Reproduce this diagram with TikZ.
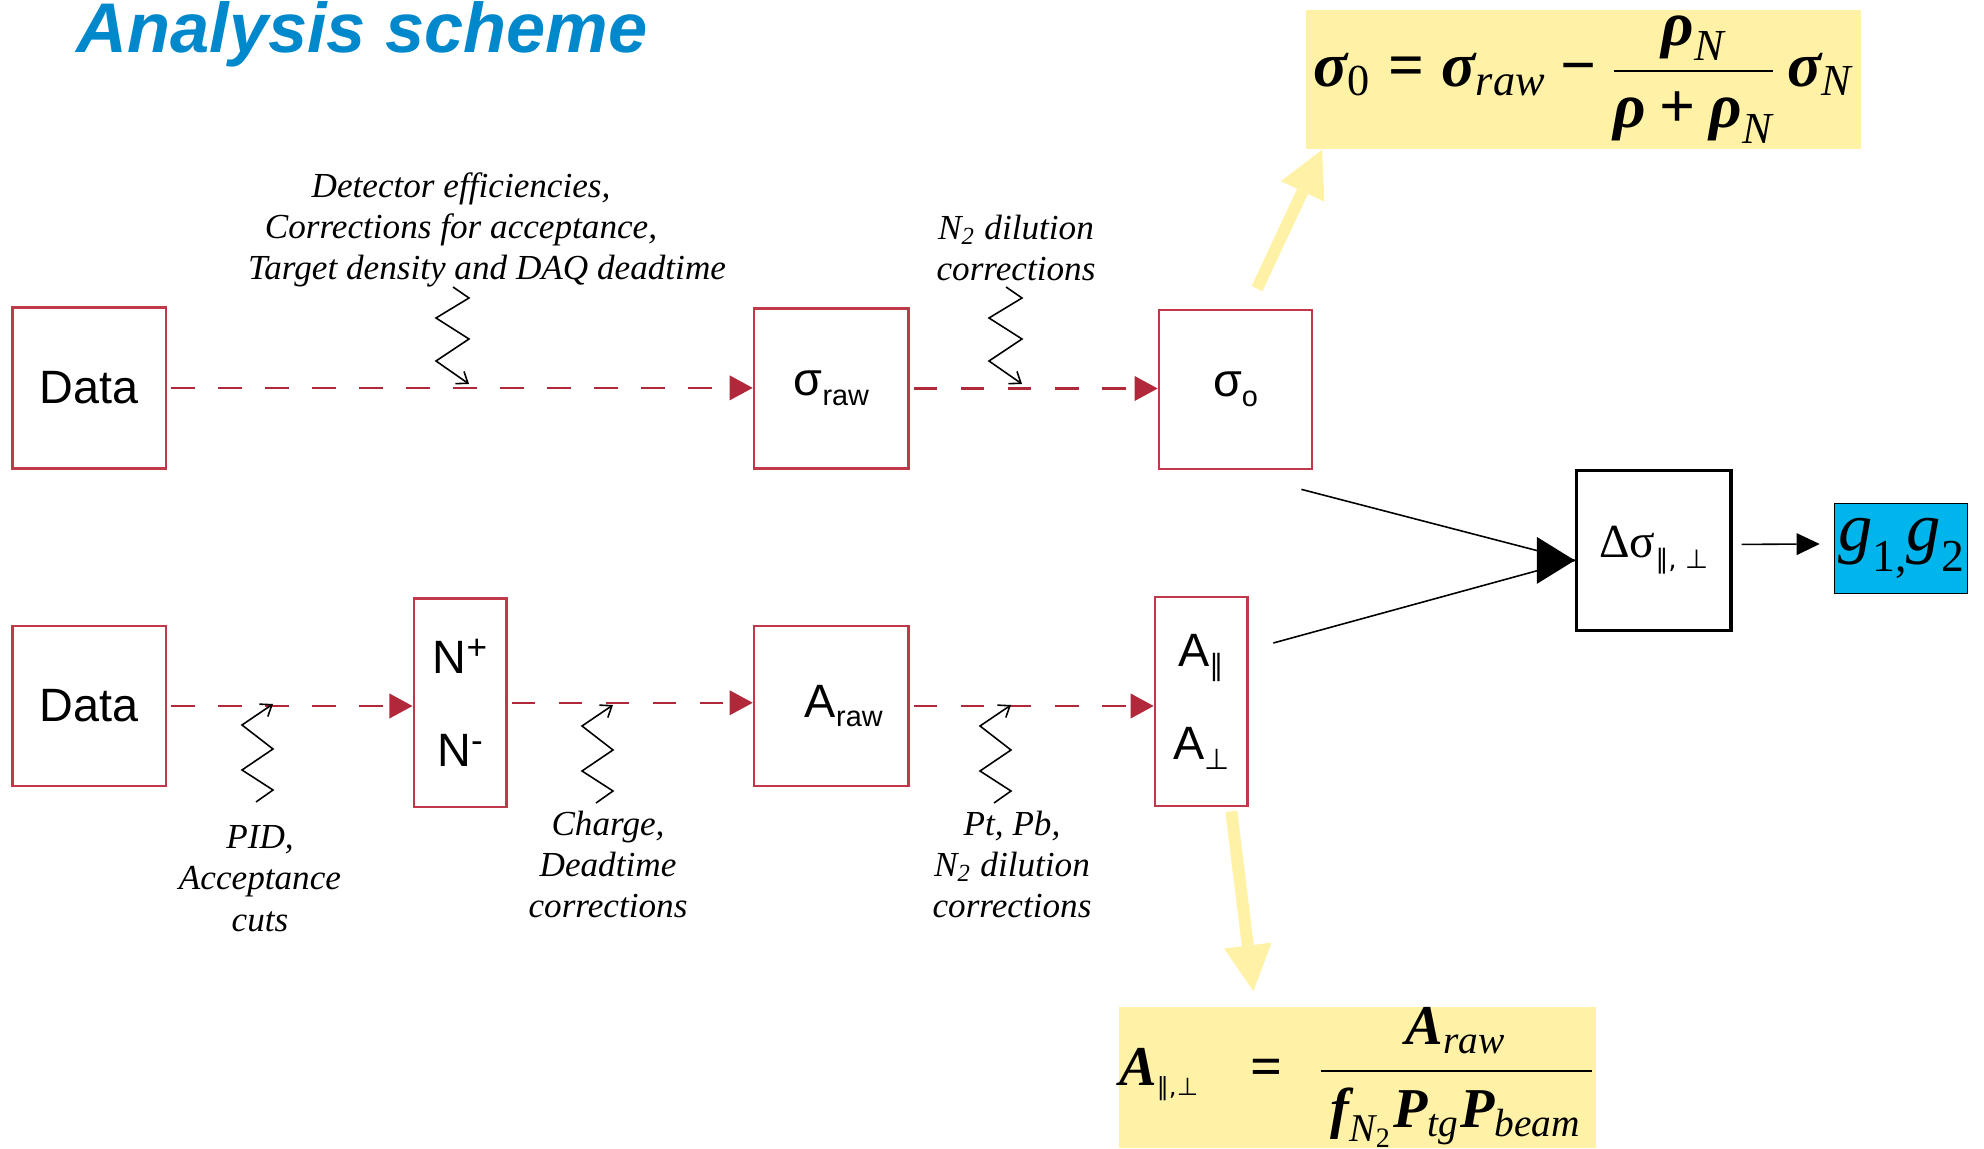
\documentclass[tikz,border=0pt]{standalone}
\usepackage{fontspec}
\usepackage{amsmath}
\setmainfont{Liberation Sans}
\newfontfamily\tnr{Liberation Serif}
\newfontfamily\dvs{DejaVu Sans}
\usetikzlibrary{arrows.meta,calc}
\definecolor{boxred}{RGB}{192,56,74}
\definecolor{dashred}{RGB}{176,40,58}
\definecolor{titleblue}{RGB}{0,136,204}
\definecolor{fyellow}{RGB}{255,242,166}
\definecolor{gcyan}{RGB}{0,181,236}
\newcommand\bgr[1]{\text{\tnr\bfseries\itshape #1}}
\newcommand\sbi[1]{\text{\tnr\itshape #1}}
\newcommand\sbu[1]{\text{\tnr #1}}
\newcommand\lblfont{\tnr\itshape\fontsize{10}{11.7}\selectfont}
\newcommand\boxfont{\fontsize{13.3}{15}\selectfont}
\newcommand\smallsub[1]{\raisebox{-2.8pt}{\fontsize{8.2}{9}\selectfont #1}}
\begin{document}
\begin{tikzpicture}[x=0.01cm,y=-0.01cm,
  redbox/.style={draw=boxred, line width=0.75pt, fill=white, inner sep=0pt, font=\boxfont, align=center},
  dasharrow/.style={draw=dashred, line width=0.6pt, dash pattern=on 0.235cm off 0.235cm,
     -{Triangle[length=0.23cm,width=0.25cm,line width=0pt]}, shorten <=0.04cm},
  zig/.style={draw=black, line width=0.45pt, -{Straight Barb[length=0.1cm,width=0.15cm]}},
  lbl/.style={font=\lblfont, align=center, inner sep=0pt, anchor=north},
  yarrow/.style={draw=fyellow, line width=0.12cm, -{Triangle[length=0.46cm,width=0.48cm,line width=0pt]}},
  blk/.style={draw=black, line width=0.45pt}]
\useasboundingbox (0,0) rectangle (1984,1149);

% title
\node[anchor=base west, inner sep=0pt, text=titleblue, font=\fontsize{20}{24}\selectfont\bfseries\itshape] (title) at (76,53) {Analysis scheme};

% formula boxes
\node[fill=fyellow, minimum width=5.55cm, minimum height=1.39cm, inner sep=0pt, font=\fontsize{18}{20}\selectfont] (f1) at (1583.5,79.5)
 {$\displaystyle \bgr{σ}_{\sbu{0}} \mathrel{\text{\tnr\bfseries =}} \bgr{σ}_{\sbi{raw}} \mathbin{\text{\tnr\bfseries −}} \frac{\bgr{ρ}_{\sbi{N}}}{\bgr{ρ}\mathbin{\text{\tnr\bfseries +}}\bgr{ρ}_{\sbi{N}}}\,\bgr{σ}_{\sbi{N}}$};
\node[fill=fyellow, minimum width=4.71cm, minimum height=1.41cm, inner sep=0pt, font=\fontsize{16}{18}\selectfont] (f2) at (1357.5,1077.5)
 {$\displaystyle \bgr{A}_{\text{\dvs\mdseries\upshape\fontsize{7}{7}\selectfont ∥,⊥}}\;\;\mathrel{\text{\tnr\bfseries =}}\;\frac{\,\bgr{A}_{\sbi{raw}}\,}{\,\bgr{f}_{\sbi{N}_{\sbu{2}}}\bgr{P}_{\sbi{tg}}\bgr{P}_{\sbi{beam}}\,}$};

% boxes
\node[redbox, minimum width=1.53cm, minimum height=1.607cm] (d1) at (89.3,387.9) {Data};
\node[redbox, minimum width=1.545cm, minimum height=1.595cm] (sraw) at (831.3,388.5) {σ\smallsub{raw}};
\node[redbox, minimum width=1.53cm, minimum height=1.59cm] (s0) at (1235.5,389.5) {σ\smallsub{o}};
\node[redbox, minimum width=1.53cm, minimum height=1.60cm] (d2) at (89.3,706) {Data};
\node[redbox, minimum width=0.923cm, minimum height=2.085cm, font={\fontsize{13.3}{26.5}\selectfont}] (nn) at (460,702.8)
 {N\raisebox{4pt}{\fontsize{10}{10}\selectfont +}\\N\raisebox{4pt}{\fontsize{10}{10}\selectfont -}};
\node[redbox, minimum width=1.545cm, minimum height=1.60cm] (araw) at (831.3,706) {\hspace{0.25cm}A\smallsub{raw}};
\node[redbox, minimum width=0.926cm, minimum height=2.09cm, font={\fontsize{13.3}{26.5}\selectfont}] (apar) at (1201.3,701.5)
 {A\smallsub{\dvs ∥}\\A\smallsub{\dvs ⊥}};
\node[draw=black, line width=0.9pt, fill=white, minimum width=1.545cm, minimum height=1.593cm, inner sep=0pt] (dsig) at (1653.7,550.4)
 {{\tnr\fontsize{13.5}{15}\selectfont Δσ}\raisebox{-3pt}{\dvs\fontsize{7.5}{8}\selectfont ∥, ⊥}};
\node[draw=black, line width=0.5pt, fill=gcyan, minimum width=1.328cm, minimum height=0.898cm, inner sep=0pt] (g) at (1901,548.5)
 {\tnr\fontsize{19.5}{20}\selectfont\itshape g\raisebox{-6pt}{\upshape\fontsize{13}{13}\selectfont 1,}g\raisebox{-6pt}{\upshape\fontsize{13}{13}\selectfont 2}};

% dashed red flow
\draw[dasharrow] (d1.east) -- (d1.east -| sraw.west);
\draw[dasharrow] (sraw.east) -- (sraw.east -| s0.west);
\draw[dasharrow] (d2.east) -- (d2.east -| nn.west);
\draw[dasharrow] (nn.east) -- (nn.east -| araw.west);
\draw[dasharrow] (araw.east) -- (araw.east -| apar.west);

% black connectors
\coordinate (dtip) at ($(dsig.west)+(0,10)$);
\draw[blk] ($(s0.south east)+(-12,19)$) -- (dtip);
\draw[blk] ($(apar.east)+(24.4,-58.5)$) -- (dtip);
\fill[black] (dtip) -- ++(-38,-23.5) -- ++(0,47) -- cycle;
\draw[blk, -{Triangle[length=0.23cm,width=0.22cm,line width=0pt]}] ($(dsig.east)+(9,-6)$) -- ($(g.west)+(-14,-4.5)$);

% yellow arrows
\draw[yarrow] ($(s0.north)+(21.5,-20)$) -- ($(f1.south west)+(17,0)$);
\draw[yarrow] ($(apar.south)+(30,4)$) -- ($(f2.north west)+(135,-15)$);

% zigzag correction arrows
\coordinate (z1) at (469,384);
\coordinate (z2) at (1022,384);
\coordinate (z3) at (273,704);
\coordinate (z4) at (613,705);
\coordinate (z5) at (1011,705);
\draw[zig] ($(z1)+(-16,-97)$) -- ++(16,11) -- ++(-33,20) -- ++(33,21) -- ++(-33,22) -- ++(33,23);
\draw[zig] ($(z2)+(-16,-97)$) -- ++(16,11) -- ++(-33,20) -- ++(33,21) -- ++(-33,22) -- ++(33,23);
\draw[zig] ($(z3)+(-17,98)$) -- ++(17,-12) -- ++(-31,-20) -- ++(31,-21) -- ++(-31,-24) -- ++(31,-21);
\draw[zig] ($(z4)+(-17,98)$) -- ++(17,-12) -- ++(-31,-20) -- ++(31,-21) -- ++(-31,-24) -- ++(31,-21);
\draw[zig] ($(z5)+(-17,98)$) -- ++(17,-12) -- ++(-31,-20) -- ++(31,-21) -- ++(-31,-24) -- ++(31,-21);

% labels
\node[lbl] (l1) at (461,172) {Detector efficiencies,\\Corrections for acceptance,\\\hspace*{0.52cm}Target density and DAQ deadtime};
\node[lbl] (l2) at (1016,214) {N\textsubscript{2} dilution\\corrections};
\node[lbl] (l3) at (260,825) {PID,\\Acceptance\\cuts};
\node[lbl] (l4) at (608,810) {Charge,\\Deadtime\\corrections};
\node[lbl] (l5) at (1012,810) {Pt, Pb,\\N\textsubscript{2} dilution\\corrections};
\end{tikzpicture}
\end{document}
